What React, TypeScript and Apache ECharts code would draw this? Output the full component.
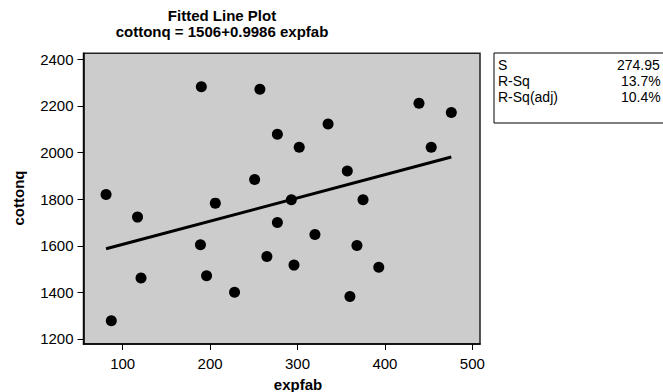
import React, { useEffect, useRef } from "react";
import * as echarts from "echarts";

const expfab = [81, 87, 117, 121, 189, 190, 196, 206, 228, 251, 257, 265, 277, 277, 293, 296, 302, 320, 335, 357, 360, 368, 375, 393, 439, 453, 476];
const cottonq = [1820, 1278, 1723, 1462, 1604, 2282, 1471, 1783, 1401, 1884, 2272, 1554, 2079, 1700, 1798, 1517, 2023, 1648, 2123, 1921, 1382, 1601, 1798, 1508, 2212, 2023, 2172];
const fitX = [81, 476];
const fitY = [1587, 1981];
const xTicks = [100, 200, 300, 400, 500];
const yTicks = [1200, 1400, 1600, 1800, 2000, 2200, 2400];
const titleLines = ["Fitted Line Plot", "cottonq = 1506+0.9986 expfab"];
const statLabels = ["S", "R-Sq", "R-Sq(adj)"];
const statValues = ["274.95", "13.7%", "10.4%"];

const SANS = "'Liberation Sans', Arial, Helvetica, sans-serif";
const NARROW = "'Liberation Sans Narrow', 'Arial Narrow', 'Liberation Sans', sans-serif";

export default function App() {
  const ref = useRef<HTMLDivElement>(null);
  useEffect(() => {
    if (!ref.current) return;
    const chart = echarts.init(ref.current, undefined, { renderer: "svg" });
    const points = expfab.map((x, i) => [x, cottonq[i]]);
    const fit = fitX.map((x, i) => [x, fitY[i]]);
    const statRowY = [65, 81, 97];
    chart.setOption({
      animation: false,
      backgroundColor: "#ffffff",
      grid: {
        left: 83.5,
        right: 183,
        top: 53.3,
        bottom: 48,
        show: true,
        backgroundColor: "#cccccc",
        borderColor: "#222",
        borderWidth: 1.5,
      },
      xAxis: {
        type: "value",
        min: 55.2,
        max: 508.8,
        splitLine: { show: false },
        axisLine: { show: true, onZero: false, lineStyle: { color: "#000", width: 1.5 } },
        axisTick: { show: true, length: 6, customValues: xTicks, lineStyle: { color: "#000", width: 1 } },
        axisLabel: {
          customValues: xTicks,
          formatter: (v: number) => String(v),
          color: "#000",
          fontSize: 15,
          fontFamily: SANS,
          margin: 12,
        },
      },
      yAxis: {
        type: "value",
        min: 1178.5,
        max: 2426,
        splitLine: { show: false },
        axisLine: { show: true, onZero: false, lineStyle: { color: "#000", width: 1.5 } },
        axisTick: { show: true, length: 6, customValues: yTicks, lineStyle: { color: "#000", width: 1 } },
        axisLabel: {
          customValues: yTicks,
          formatter: (v: number) => String(v),
          color: "#000",
          fontSize: 15,
          fontFamily: SANS,
          margin: 10,
        },
      },
      series: [
        {
          type: "line",
          data: fit,
          symbol: "none",
          lineStyle: { color: "#000", width: 3 },
          z: 2,
        },
        {
          type: "scatter",
          data: points,
          symbol: "circle",
          symbolSize: 11,
          itemStyle: { color: "#000", opacity: 1 },
          z: 3,
        },
      ],
      graphic: [
        {
          type: "text",
          x: 222,
          y: 23,
          style: {
            text: titleLines.join("\n"),
            font: `bold 15px ${NARROW}`,
            lineHeight: 16,
            fill: "#000",
            align: "center",
            verticalAlign: "middle",
          },
        },
        {
          type: "text",
          x: 298,
          y: 384,
          style: { text: "expfab", font: `bold 15px ${SANS}`, fill: "#000", align: "center", verticalAlign: "middle" },
        },
        {
          type: "text",
          x: 18,
          y: 198,
          rotation: Math.PI / 2,
          style: { text: "cottonq", font: `bold 15px ${SANS}`, fill: "#000", align: "center", verticalAlign: "middle" },
        },
        {
          type: "rect",
          shape: { x: 494, y: 53, width: 200, height: 70 },
          style: { fill: "#fff", stroke: "#000", lineWidth: 1 },
        },
        ...statLabels.map((t, i) => ({
          type: "text",
          x: 498,
          y: statRowY[i],
          style: { text: t, font: `14px ${SANS}`, fill: "#000", align: "left", verticalAlign: "middle" },
        })),
        ...statValues.map((t, i) => ({
          type: "text",
          x: i === 0 ? 617 : 621,
          y: statRowY[i],
          style: { text: t, font: `14px ${SANS}`, fill: "#000", align: "left", verticalAlign: "middle" },
        })),
      ],
    });
    return () => chart.dispose();
  }, []);
  return <div ref={ref} style={{ position: "fixed", left: 0, top: 0, width: 663, height: 392 }} />;
}
